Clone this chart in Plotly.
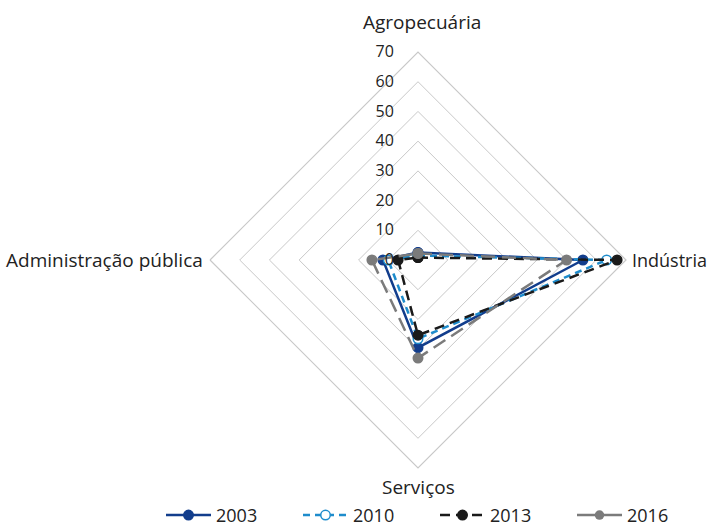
import plotly.graph_objects as go

categories = ["Agropecuária", "Indústria", "Serviços", "Administração pública"]
years = ["2003", "2010", "2013", "2016"]
v2003 = [2.5, 55.5, 29.5, 11.8]
v2010 = [1.5, 63.5, 26.5, 10.0]
v2013 = [0.8, 67.0, 25.3, 6.7]
v2016 = [2.2, 50.0, 33.0, 15.5]
radial_ticks = [0, 10, 20, 30, 40, 50, 60, 70]

series = [v2003, v2010, v2013, v2016]
styles = [
    dict(color="#123d8c", dash="solid", mfill="#123d8c"),
    dict(color="#1e8ccc", dash="7px,5px", mfill="#ffffff"),
    dict(color="#1a1a1a", dash="10px,6px", mfill="#1a1a1a"),
    dict(color="#7b7b7b", dash="14px,7px", mfill="#7b7b7b"),
]

W, H = 710, 527
cx, cy, R = 418, 260, 208

fig = go.Figure()
theta = categories + categories[:1]
for name, vals, st in zip(years, series, styles):
    fig.add_trace(go.Scatterpolar(
        r=vals + vals[:1], theta=theta, name=name, mode="lines+markers",
        line=dict(color=st["color"], width=2.5, dash=st["dash"]),
        marker=dict(size=9.5, color=st["mfill"], line=dict(color=st["color"], width=1.5)),
        showlegend=(name != "2016"),
    ))
# legend entry for 2016 drawn solid as in the reference
fig.add_trace(go.Scatterpolar(
    r=[None], theta=[categories[0]], name=years[3], mode="lines+markers",
    line=dict(color="#7b7b7b", width=2.5), marker=dict(size=9.5, color="#7b7b7b"),
))

# category labels
label_pos = [
    (422, 22, "center", "middle", 19),
    (631, 260, "left", "middle", 18),
    (418, 487, "center", "middle", 19),
    (204, 260, "right", "middle", 19),
]
annotations = []
for cat, (x, y, xa, ya, fs) in zip(categories, label_pos):
    annotations.append(dict(text=cat, x=x / W, y=1 - y / H, xref="paper", yref="paper",
                            xanchor=xa, yanchor=ya, showarrow=False, borderpad=0,
                            font=dict(size=fs, color="#222222")))

fig.update_layout(
    width=W, height=H,
    margin=dict(l=0, r=0, t=0, b=0, autoexpand=False),
    paper_bgcolor="white",
    font=dict(family="Open Sans", color="#222222", size=17),
    annotations=annotations,
    polar=dict(
        domain=dict(x=[(cx - R) / W, (cx + R) / W],
                    y=[(H - cy - R) / H, (H - cy + R) / H]),
        bgcolor="white",
        gridshape="linear",
        angularaxis=dict(rotation=90, direction="clockwise", showgrid=False,
                         showline=True, linecolor="#c8c8c8", linewidth=1.2,
                         ticks="", showticklabels=False),
        radialaxis=dict(range=[0, 70], tickvals=radial_ticks, angle=90, tickangle=90,
                        side="counterclockwise",
                        showline=False, gridcolor="#c8c8c8", gridwidth=1.2,
                        ticks="outside", ticklen=18, tickcolor="rgba(0,0,0,0)",
                        tickfont=dict(size=16)),
    ),
    legend=dict(orientation="h", x=161 / W, xanchor="left", y=-0.013, yanchor="bottom",
                font=dict(size=18), traceorder="normal", itemwidth=45,
                entrywidth=77, entrywidthmode="pixels"),
)

fig.write_html("out.html", post_script="document.body.style.margin='0';",
               config={"displayModeBar": False})
